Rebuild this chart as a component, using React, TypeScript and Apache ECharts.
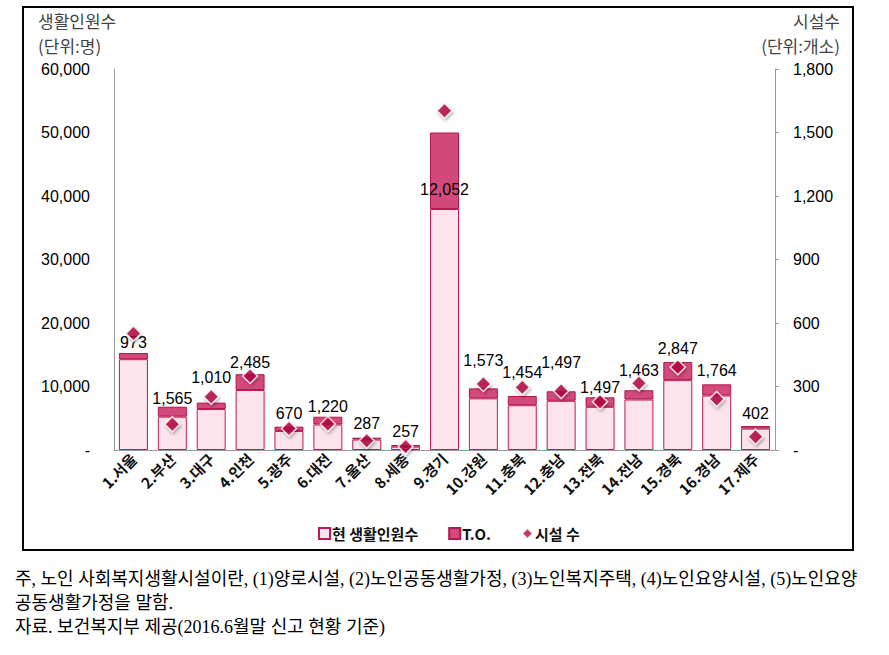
import React, { useEffect, useRef } from "react";
import * as echarts from "echarts";

const categories = [
  "1.서울", "2.부산", "3.대구", "4.인천", "5.광주", "6.대전", "7.울산", "8.세종", "9.경기",
  "10.강원", "11.충북", "12.충남", "13.전북", "14.전남", "15.경북", "16.경남", "17.제주",
];
const currentResidents = [
  14300, 5250, 6450, 9450, 3000, 4020, 1650, 530, 37950,
  8130, 7050, 7750, 6800, 7950, 11000, 8580, 3370,
];
const toValues = [
  973, 1565, 1010, 2485, 670, 1220, 287, 257, 12052,
  1573, 1454, 1497, 1497, 1463, 2847, 1764, 402,
];
const facilities = [
  550, 122, 252, 350, 102, 123, 44, 16, 1603,
  312, 296, 279, 228, 315, 391, 241, 63,
];
const leftTicks = [0, 10000, 20000, 30000, 40000, 50000, 60000];
const rightTicks = [0, 300, 600, 900, 1200, 1500, 1800];

// label placement (style only)
const labelGap = [3, 0, 17, 4, 5, 2, 6, 6, 12, 20, 15, 21, 2, 12, 6, 6, 5];

const fmt = (v: number) => (v === 0 ? "-" : v.toLocaleString("en-US"));

export default function App() {
  const ref = useRef<HTMLDivElement>(null);
  useEffect(() => {
    document.body.style.margin = "0";
    const chart = echarts.init(ref.current!, null, { renderer: "svg" });
    const axisFont = { fontFamily: "Liberation Sans, Arial", fontSize: 16, color: "#000" };
    chart.setOption({
      animation: false,
      textStyle: { fontFamily: "Liberation Sans, Noto Sans CJK KR" },
      grid: { left: 114, right: 114, top: 69, bottom: 110 },
      legend: {
        left: 313,
        top: 521,
        itemGap: 30,
        itemWidth: 11,
        itemHeight: 11,
        textStyle: { fontFamily: "Noto Sans CJK KR", fontSize: 15, fontWeight: "bold", color: "#111", padding: [0, 0, 0, -3] },
        data: [
          { name: "현 생활인원수", icon: "rect" },
          { name: "T.O.", icon: "rect" },
          { name: "시설 수", icon: "diamond" },
        ],
      },
      xAxis: {
        type: "category",
        data: categories,
        axisLine: { lineStyle: { color: "#999" } },
        axisTick: { show: false },
        axisLabel: {
          rotate: 45,
          interval: 0,
          margin: 6,
          fontFamily: "Noto Sans CJK KR",
          fontSize: 15,
          fontWeight: "bold",
          color: "#111",
        },
      },
      yAxis: [
        {
          type: "value",
          min: 0,
          max: 60000,
          interval: 10000,
          axisLine: { show: true, lineStyle: { color: "#999" } },
          axisTick: { show: false },
          splitLine: { show: false },
          axisLabel: { ...axisFont, margin: 24, formatter: (v: number) => fmt(v) },
        },
        {
          type: "value",
          min: 0,
          max: 1800,
          interval: 300,
          axisLine: { show: true, lineStyle: { color: "#999" } },
          axisTick: { show: true, length: 4, lineStyle: { color: "#999" } },
          splitLine: { show: false },
          axisLabel: { ...axisFont, margin: 18, formatter: (v: number) => fmt(v) },
        },
      ],
      graphic: [
        {
          type: "rect",
          shape: { x: 23, y: 7, width: 830, height: 543 },
          style: { fill: "none", stroke: "#000", lineWidth: 2 },
          silent: true,
        },
        {
          type: "text",
          x: 38,
          y: 8,
          style: { text: "생활인원수\n(단위:명)", font: "17px 'Noto Sans CJK KR'", fill: "#444", lineHeight: 25 },
        },
        {
          type: "text",
          x: 840,
          y: 8,
          style: { text: "시설수\n(단위:개소)", font: "17px 'Noto Sans CJK KR'", fill: "#444", lineHeight: 25, align: "right" },
        },
      ],
      series: [
        {
          name: "현 생활인원수",
          type: "bar",
          stack: "total",
          barWidth: 29,
          data: currentResidents,
          itemStyle: { color: "#FCE3EC", borderColor: "#C2185B", borderWidth: 1 },
        },
        {
          name: "T.O.",
          type: "bar",
          stack: "total",
          barWidth: 29,
          data: toValues.map((v, i) => ({
            value: v,
            label:
              i === 8
                ? { show: true, position: "insideBottom", distance: labelGap[i] }
                : { show: true, position: "top", distance: labelGap[i] },
          })),
          itemStyle: { color: "#D24A7B", borderColor: "#B3164E", borderWidth: 1 },
          label: {
            show: true,
            fontFamily: "Liberation Sans, Arial",
            fontSize: 16,
            color: "#000",
            formatter: (p: any) => fmt(p.value),
          },
        },
        {
          name: "시설 수",
          type: "scatter",
          yAxisIndex: 1,
          symbol: "diamond",
          symbolSize: 15,
          data: facilities,
          z: 5,
          itemStyle: {
            color: "#B1063E",
            borderColor: "#fff",
            borderWidth: 1.5,
            shadowColor: "rgba(0,0,0,0.35)",
            shadowBlur: 3,
            shadowOffsetX: 1,
            shadowOffsetY: 2,
          },
        },
      ],
    });
    return () => chart.dispose();
  }, []);

  const noteStyle: React.CSSProperties = {
    position: "absolute",
    left: 15,
    fontFamily: "'Liberation Serif', 'Noto Sans CJK KR', serif",
    fontSize: 18,
    color: "#000",
    whiteSpace: "nowrap",
    lineHeight: "24px",
  };

  return (
    <div style={{ position: "relative", width: 889, height: 655, background: "#fff" }}>
      <div ref={ref} style={{ position: "absolute", left: 0, top: 0, width: 889, height: 560 }} />
      <div style={{ ...noteStyle, top: 567 }}>
        주, 노인 사회복지생활시설이란, (1)양로시설, (2)노인공동생활가정, (3)노인복지주택, (4)노인요양시설, (5)노인요양
      </div>
      <div style={{ ...noteStyle, top: 591 }}>공동생활가정을 말함.</div>
      <div style={{ ...noteStyle, top: 615 }}>자료. 보건복지부 제공(2016.6월말 신고 현황 기준)</div>
    </div>
  );
}
